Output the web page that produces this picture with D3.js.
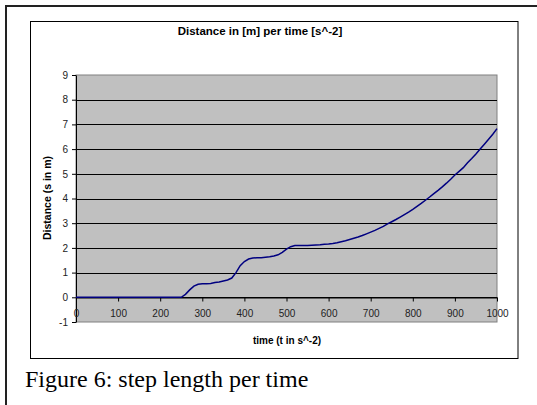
<!DOCTYPE html>
<html>
<head>
<meta charset="utf-8">
<script src="https://cdn.jsdelivr.net/npm/d3@7"></script>
<style>
  body { margin: 0; background: #fff; }
  svg { display: block; }
</style>
</head>
<body>
<svg id="my_svg"></svg>
<script>
const width = 537;
const height = 405;

// time values (t) and distance values (s)
const times = d3.range(0, 1001, 10);
const distance = [
  0, 0, 0, 0, 0, 0, 0, 0, 0, 0,
  0, 0, 0, 0, 0, 0, 0, 0, 0, 0,
  0, 0, 0, 0, 0, 0, 0.12, 0.3, 0.45, 0.53,
  0.55, 0.55, 0.56, 0.6, 0.62, 0.66, 0.7, 0.78, 1.0, 1.28,
  1.45, 1.55, 1.59, 1.6, 1.6, 1.62, 1.64, 1.67, 1.72, 1.82,
  1.95, 2.05, 2.1, 2.1, 2.1, 2.1, 2.11, 2.12, 2.13, 2.15,
  2.16, 2.18, 2.21, 2.25, 2.29, 2.34, 2.39, 2.44, 2.5, 2.57,
  2.64, 2.71, 2.79, 2.87, 2.97, 3.06, 3.15, 3.25, 3.35, 3.45,
  3.56, 3.68, 3.8, 3.93, 4.06, 4.2, 4.33, 4.47, 4.62, 4.78,
  4.95, 5.1, 5.25, 5.45, 5.62, 5.8, 6.0, 6.2, 6.4, 6.6,
  6.83
];
const xTicks = d3.range(0, 1001, 100);
const yTicks = d3.range(-1, 10, 1);

const svg = d3.select('#my_svg')
  .attr('width', width)
  .attr('height', height);

// outer page frame
svg.append('path')
  .attr('d', 'M6,405V6H537')
  .attr('fill', 'none')
  .attr('stroke', '#222')
  .attr('stroke-width', 2);

// chart box
svg.append('rect')
  .attr('x', 30.5).attr('y', 21.5)
  .attr('width', 487.5).attr('height', 337)
  .attr('fill', '#fff')
  .attr('stroke', '#000');

const x = d3.scaleLinear().domain([0, 1000]).range([76, 497]);
const y = d3.scaleLinear().domain([-1, 9]).range([322, 75]);

// plot area
svg.append('rect')
  .attr('x', x(0)).attr('y', y(9))
  .attr('width', x(1000) - x(0)).attr('height', y(-1) - y(9))
  .attr('fill', '#c0c0c0')
  .attr('stroke', '#808080');

// gridlines
svg.append('g')
  .selectAll('line')
  .data(yTicks.filter(d => d > -1 && d < 9))
  .enter().append('line')
  .attr('x1', x(0)).attr('x2', x(1000))
  .attr('y1', d => Math.round(y(d)) + 0.5)
  .attr('y2', d => Math.round(y(d)) + 0.5)
  .attr('stroke', '#000');

const yAxis = svg.append('g')
  .attr('transform', `translate(${x(0)},0)`)
  .call(d3.axisLeft(y).tickValues(yTicks).tickFormat(d => String(d))
    .tickSize(4).tickPadding(4).tickSizeOuter(0));

const xAxis = svg.append('g')
  .attr('transform', `translate(0,${Math.round(y(0)) + 0.5})`)
  .call(d3.axisBottom(x).tickValues(xTicks).tickFormat(d => String(d))
    .tickSize(4).tickPadding(8).tickSizeOuter(0));

[yAxis, xAxis].forEach(g => {
  g.selectAll('text')
    .attr('font-family', 'Arial, "Liberation Sans", sans-serif')
    .attr('font-size', 10)
    .attr('fill', '#222');
  g.selectAll('line, path').attr('stroke', '#000');
});

// the curve
const line = d3.line()
  .x((d, i) => x(times[i]))
  .y(d => y(d));

svg.append('path')
  .datum(distance)
  .attr('d', line)
  .attr('fill', 'none')
  .attr('stroke', '#000080')
  .attr('stroke-width', 1.5);

// titles
svg.append('text')
  .attr('x', 260).attr('y', 35)
  .attr('text-anchor', 'middle')
  .attr('font-family', 'Arial, "Liberation Sans", sans-serif')
  .attr('font-weight', 'bold')
  .attr('font-size', 11.5)
  .text('Distance in [m] per time [s^-2]');

svg.append('text')
  .attr('x', 287).attr('y', 344)
  .attr('text-anchor', 'middle')
  .attr('font-family', 'Arial, "Liberation Sans", sans-serif')
  .attr('font-weight', 'bold')
  .attr('font-size', 10)
  .text('time (t in s^-2)');

svg.append('text')
  .attr('transform', 'translate(51,198) rotate(-90)')
  .attr('text-anchor', 'middle')
  .attr('font-family', 'Arial, "Liberation Sans", sans-serif')
  .attr('font-weight', 'bold')
  .attr('font-size', 10.5)
  .text('Distance (s in m)');

// caption
svg.append('text')
  .attr('x', 25).attr('y', 387)
  .attr('font-family', '"Liberation Serif", "Times New Roman", serif')
  .attr('font-size', 24)
  .text('Figure 6: step length per time');
</script>
</body>
</html>
